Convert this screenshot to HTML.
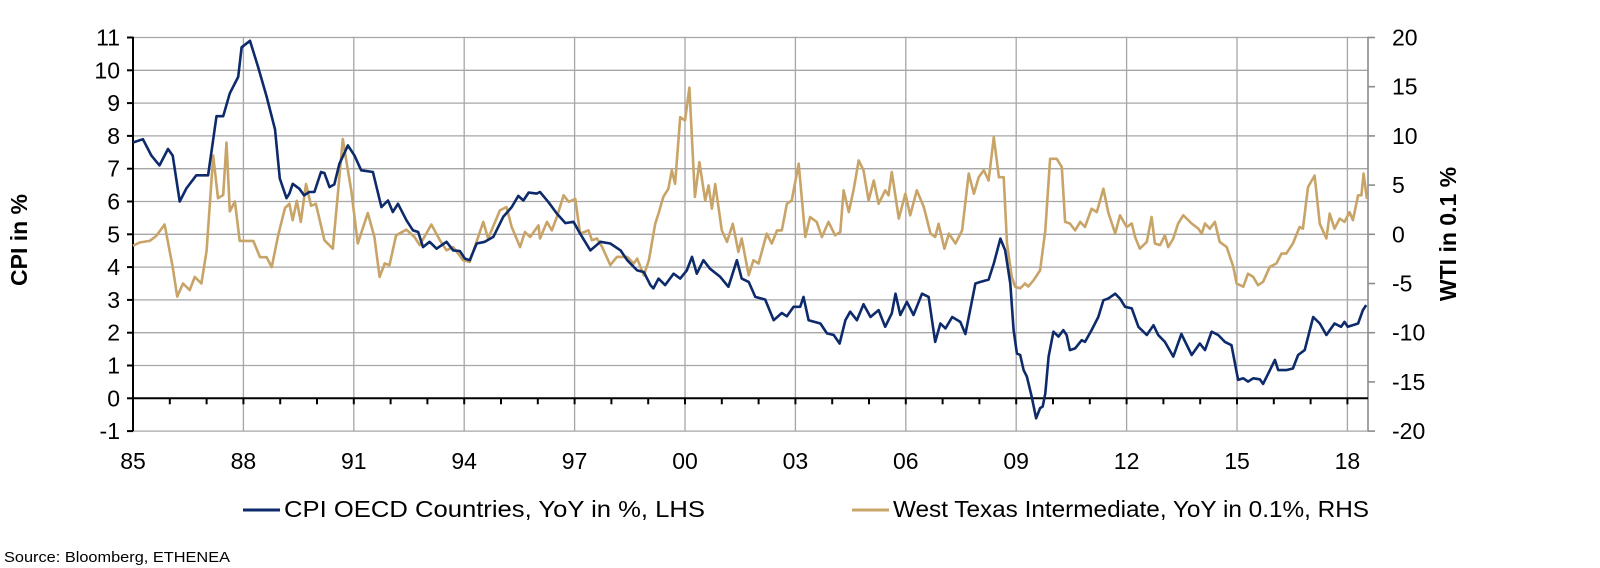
<!DOCTYPE html>
<html><head><meta charset="utf-8">
<style>
html,body{margin:0;padding:0;background:#fff;}
svg{display:block;font-family:"Liberation Sans",Arial,sans-serif;}
</style></head>
<body>
<svg id="chart" width="1600" height="568" viewBox="0 0 1600 568" xmlns="http://www.w3.org/2000/svg">
<g id="grid"></g>
<g id="axes"></g>
<g id="series"></g>
<text x="0" y="0" transform="translate(27,240) rotate(-90)" text-anchor="middle" font-size="23" font-weight="bold" fill="#000">CPI in %</text>
<text x="0" y="0" transform="translate(1456,234) rotate(-90)" text-anchor="middle" font-size="23" font-weight="bold" fill="#000">WTI in 0.1 %</text>
<g>
<line x1="243" y1="510" x2="280" y2="510" stroke="#0d2a6b" stroke-width="3"/>
<text x="284" y="517" font-size="23" textLength="421" lengthAdjust="spacingAndGlyphs" fill="#000">CPI OECD Countries, YoY in %, LHS</text>
<line x1="852" y1="510" x2="889" y2="510" stroke="#c8a468" stroke-width="3"/>
<text x="893" y="517" font-size="23" textLength="476" lengthAdjust="spacingAndGlyphs" fill="#000">West Texas Intermediate, YoY in 0.1%, RHS</text>
</g>
<text x="4" y="562" font-size="14.5" textLength="226" lengthAdjust="spacingAndGlyphs" fill="#000">Source: Bloomberg, ETHENEA</text>
</svg>
<script>
const xTickLabels = ["85","88","91","94","97","00","03","06","09","12","15","18"];
const xTickYears = [1985,1988,1991,1994,1997,2000,2003,2006,2009,2012,2015,2018];
const leftTicks = [-1,0,1,2,3,4,5,6,7,8,9,10,11];
const rightTicks = [-20,-15,-10,-5,0,5,10,15,20];

const cpiYears = [1985.0,1985.27,1985.5,1985.72,1985.95,1986.08,1986.27,1986.45,1986.72,1987.04,1987.27,1987.45,1987.63,1987.86,1987.95,1988.18,1988.4,1988.63,1988.86,1988.99,1989.17,
1989.25,1989.34,1989.52,1989.65,1989.79,1989.93,1990.11,1990.2,1990.34,1990.47,1990.61,1990.84,1991.02,1991.2,1991.52,1991.75,1991.93,1992.06,1992.2,1992.43,1992.61,1992.75,1992.88,1993.06,1993.25,1993.52,1993.7,1993.88,1994.02,1994.15,1994.34,1994.56,1994.79,1995.06,1995.29,1995.47,1995.61,1995.75,1995.97,1996.06,1996.29,1996.52,1996.75,1996.97,1997.15,1997.43,1997.7,1997.97,1998.25,1998.43,1998.7,1998.88,1999.06,
1999.14,1999.28,1999.46,1999.69,1999.87,2000.05,2000.19,2000.32,2000.5,2000.68,2000.96,2001.18,2001.41,2001.54,2001.73,2001.91,2002.18,2002.41,2002.63,2002.77,2002.95,2003.13,2003.22,2003.36,2003.68,2003.86,2004.04,2004.2,2004.36,2004.49,2004.67,2004.85,2005.04,2005.26,2005.44,2005.62,2005.72,2005.85,2006.03,2006.21,2006.44,2006.62,2006.8,2006.94,2007.08,2007.26,2007.48,2007.62,2007.89,2008.03,2008.25,2008.39,2008.57,
2008.7,2008.84,2008.93,2009.02,2009.11,2009.2,2009.29,2009.42,2009.54,2009.65,2009.72,2009.79,2009.88,2010.01,2010.15,2010.28,2010.37,2010.46,2010.6,2010.78,2010.87,2011.05,2011.23,2011.37,2011.5,2011.69,2011.82,2011.96,2012.14,2012.32,2012.55,2012.73,2012.86,2013.04,2013.27,2013.49,2013.77,2013.99,2014.13,2014.31,2014.49,2014.67,2014.85,2015.03,2015.17,2015.3,2015.44,2015.62,2015.71,2015.85,2016.03,2016.12,2016.34,2016.52,2016.66,2016.84,2017.07,2017.25,2017.43,2017.65,2017.83,2017.92,2018.01,2018.29,2018.42,2018.51];
const cpiValues = [7.8,7.9,7.4,7.1,7.6,7.4,6.0,6.4,6.8,6.8,8.6,8.6,9.3,9.8,10.7,10.9,10.1,9.2,8.2,6.7,6.1,
6.24,6.54,6.39,6.19,6.29,6.29,6.9,6.87,6.44,6.52,7.15,7.71,7.4,6.95,6.9,5.83,6.03,5.68,5.93,5.43,5.12,5.07,4.61,4.77,4.56,4.77,4.51,4.49,4.26,4.21,4.72,4.77,4.92,5.53,5.83,6.17,6.03,6.27,6.24,6.29,5.98,5.63,5.34,5.38,5.02,4.51,4.77,4.72,4.51,4.21,3.9,3.85,3.45,
3.35,3.65,3.45,3.8,3.65,3.9,4.31,3.8,4.21,3.95,3.7,3.4,4.21,3.65,3.55,3.09,3.01,2.38,2.6,2.5,2.79,2.79,3.09,2.38,2.28,1.98,1.93,1.67,2.38,2.64,2.38,2.87,2.48,2.69,2.18,2.59,3.19,2.54,2.94,2.54,3.19,3.09,1.72,2.28,2.13,2.48,2.33,1.96,3.5,3.55,3.62,4.11,4.87,
4.51,3.5,2.08,1.37,1.32,0.86,0.66,0.05,-0.61,-0.3,-0.25,0.15,1.27,2.03,1.88,2.08,1.93,1.47,1.52,1.77,1.72,2.08,2.48,2.99,3.04,3.19,3.04,2.79,2.74,2.18,1.93,2.23,1.93,1.72,1.27,1.96,1.32,1.67,1.47,2.03,1.93,1.72,1.62,0.56,0.61,0.51,0.61,0.58,0.44,0.76,1.17,0.86,0.86,0.91,1.32,1.47,2.48,2.28,1.93,2.28,2.18,2.33,2.18,2.28,2.69,2.84];

const wtiYears = [1985.0,1985.18,1985.45,1985.63,1985.86,1986.08,1986.2,1986.36,1986.54,1986.68,1986.86,1987.0,1987.18,1987.31,1987.45,1987.54,1987.63,1987.77,1987.9,1988.09,1988.27,1988.45,1988.63,1988.77,1988.95,1989.13,
1989.25,1989.34,1989.45,1989.56,1989.7,1989.84,1989.97,1990.2,1990.43,1990.56,1990.7,1990.84,1990.93,1991.11,1991.38,1991.56,1991.7,1991.84,1991.97,1992.15,1992.43,1992.65,1992.79,1993.11,1993.34,1993.52,1993.7,1993.97,1994.15,1994.52,1994.65,1994.97,1995.15,1995.29,1995.52,1995.65,1995.79,1996.02,1996.06,1996.25,1996.38,1996.52,1996.7,1996.84,1997.02,1997.15,1997.38,1997.47,1997.61,1997.75,1997.97,1998.15,1998.43,1998.61,1998.7,1998.88,1999.02,
1999.19,1999.28,1999.41,1999.55,1999.64,1999.73,1999.87,2000.0,2000.12,2000.27,2000.39,2000.55,2000.64,2000.73,2000.82,2001.0,2001.14,2001.3,2001.45,2001.54,2001.73,2001.86,2002.0,2002.22,2002.36,2002.5,2002.63,2002.77,2002.9,2003.09,2003.27,2003.4,2003.58,2003.72,2003.9,2004.08,2004.22,2004.31,2004.45,2004.58,2004.72,2004.85,2004.99,2005.13,2005.26,2005.44,2005.53,2005.62,2005.81,2005.99,2006.12,2006.3,2006.49,2006.67,2006.8,2006.89,2007.05,2007.17,2007.35,2007.53,2007.71,2007.85,2007.98,2008.12,2008.25,2008.39,2008.53,
2008.66,2008.75,2008.88,2008.97,2009.11,2009.24,2009.33,2009.47,2009.65,2009.79,2009.92,2010.1,2010.24,2010.33,2010.46,2010.6,2010.74,2010.87,2011.05,2011.19,2011.37,2011.5,2011.69,2011.82,2012.0,2012.14,2012.23,2012.36,2012.55,2012.68,2012.77,2012.91,2013.04,2013.13,2013.27,2013.4,2013.54,2013.77,2013.95,2014.04,2014.13,2014.26,2014.4,2014.53,2014.72,2014.9,2014.99,2015.17,2015.3,2015.44,2015.57,2015.71,2015.89,2016.07,2016.21,2016.34,2016.52,2016.7,2016.79,2016.93,2017.11,2017.25,2017.43,2017.52,2017.65,2017.79,2017.92,2018.06,2018.15,2018.29,2018.38,2018.44,2018.53];
const wtiValues = [-1.17,-0.83,-0.67,-0.17,1.0,-3.33,-6.33,-5.0,-5.67,-4.33,-5.0,-1.67,8.0,3.67,4.0,9.33,2.33,3.33,-0.67,-0.67,-0.67,-2.33,-2.33,-3.33,0.0,2.67,
3.1,1.43,3.4,1.26,5.1,2.9,3.1,-0.6,-1.46,3.8,9.7,6.5,4.5,-0.94,2.16,-0.27,-4.33,-2.97,-3.13,-0.1,0.47,-0.27,-1.1,1.0,-0.6,-1.63,-1.3,-2.63,-2.8,1.26,-0.43,2.43,2.77,0.74,-1.3,0.23,-0.27,0.9,-0.43,1.26,0.4,1.76,3.96,3.3,3.6,0.07,0.4,-0.6,-0.43,-1.3,-3.13,-2.3,-2.3,-2.97,-2.47,-4.17,-2.63,
1.07,2.1,3.8,4.63,6.5,5.13,11.9,11.57,14.9,3.8,7.33,3.43,4.97,2.6,5.1,0.4,-0.77,1.07,-1.8,-0.43,-4.17,-2.63,-2.97,0.07,-0.94,0.4,0.4,3.1,3.43,7.17,-0.27,1.76,1.26,-0.27,1.26,-0.1,0.23,4.47,2.26,4.47,7.5,6.5,3.43,5.47,3.1,4.47,3.96,6.33,1.6,4.13,1.93,4.47,2.77,0.07,-0.27,1.07,-1.46,0.07,-0.94,0.4,6.17,4.13,5.8,6.5,5.47,9.87,5.8,
5.8,-0.94,-4.33,-5.33,-5.5,-5.0,-5.3,-4.67,-3.67,0.4,7.67,7.67,6.83,1.26,1.1,0.4,1.26,0.74,2.6,2.26,4.63,2.26,0.07,1.93,0.74,1.1,-0.27,-1.46,-0.77,1.76,-0.94,-1.1,-0.1,-1.3,-0.43,1.1,1.93,1.1,0.57,0.07,1.1,0.57,1.26,-0.77,-1.3,-3.3,-5.0,-5.33,-4.0,-4.33,-5.17,-4.83,-3.3,-2.97,-1.96,-1.96,-0.94,0.74,0.57,4.8,5.97,1.07,-0.43,2.1,0.57,1.6,1.26,2.26,1.43,3.96,3.96,6.17,3.6];

const NS = "http://www.w3.org/2000/svg";
const X0 = 133, PXYR = 36.8, XR = 1368;
const YTOP = 36.7, Y0 = 398.3, PXU = 32.8;
function xScale(yr){ return X0 + (yr - 1985) * PXYR; }
function yLeft(v){ return Y0 - v * PXU; }
function yRight(v){ return yLeft(5 + v * 12 / 40); }
function mk(tag, attrs, parent){
  const e = document.createElementNS(NS, tag);
  for (const k in attrs) e.setAttribute(k, attrs[k]);
  parent.appendChild(e);
  return e;
}
const grid = document.getElementById('grid');
const axes = document.getElementById('axes');
const series = document.getElementById('series');
const YBOT = yLeft(-1);

leftTicks.forEach(function(t){
  if (t === 0) return;
  const l = mk('line', {x1:X0, x2:XR, y1:yLeft(t), y2:yLeft(t), stroke:'#a6a6a6', 'stroke-width':1.3}, grid);
  
  
});
xTickYears.forEach(function(yr, i){
  const x = xScale(yr);
  if (i > 0) {
    const l = mk('line', {x1:x, x2:x, y1:YTOP, y2:YBOT, stroke:'#a6a6a6', 'stroke-width':1.3}, grid);
    
    
  }
  const t = mk('text', {x:x, y:469, 'text-anchor':'middle', 'font-size':23, fill:'#000'}, axes);
  t.textContent = xTickLabels[i];
  
  
});
const la = mk('line', {x1:X0, x2:X0, y1:YTOP, y2:YBOT, stroke:'#000', 'stroke-width':2}, axes);


leftTicks.forEach(function(t){
  const y = yLeft(t);
  const tk = mk('line', {x1:X0-6, x2:X0, y1:y, y2:y, stroke:'#000', 'stroke-width':2}, axes);
  
  
  const lb = mk('text', {x:X0-13, y:y+8, 'text-anchor':'end', 'font-size':23, fill:'#000'}, axes);
  lb.textContent = String(t);
  
  
});
const ra = mk('line', {x1:XR, x2:XR, y1:YTOP, y2:YBOT, stroke:'#8c8c8c', 'stroke-width':1.6}, axes);


rightTicks.forEach(function(t){
  const y = yRight(t);
  const tk = mk('line', {x1:XR, x2:XR+7, y1:y, y2:y, stroke:'#8c8c8c', 'stroke-width':1.6}, axes);
  
  
  const lb = mk('text', {x:XR+24, y:y+8, 'text-anchor':'start', 'font-size':23, fill:'#000'}, axes);
  lb.textContent = String(t);
  
  
});
const zl = mk('line', {x1:X0, x2:XR, y1:Y0, y2:Y0, stroke:'#000', 'stroke-width':2}, axes);


for (let yr = 1986; yr <= 2018; yr++) {
  const x = xScale(yr);
  const tk = mk('line', {x1:x, x2:x, y1:Y0, y2:Y0+6, stroke:'#000', 'stroke-width':2}, axes);
  
  
}
function pathFor(years, vals, yf){
  return years.map(function(yr, i){ return (i ? 'L' : 'M') + xScale(yr).toFixed(1) + ' ' + yf(vals[i]).toFixed(1); }).join(' ');
}
const wti = mk('path', {d:pathFor(wtiYears, wtiValues, yRight), fill:'none', stroke:'#c8a468', 'stroke-width':2.6, 'stroke-linejoin':'round'}, series);


const cpi = mk('path', {d:pathFor(cpiYears, cpiValues, yLeft), fill:'none', stroke:'#0d2a6b', 'stroke-width':2.6, 'stroke-linejoin':'round'}, series);


</script>
</body></html>
